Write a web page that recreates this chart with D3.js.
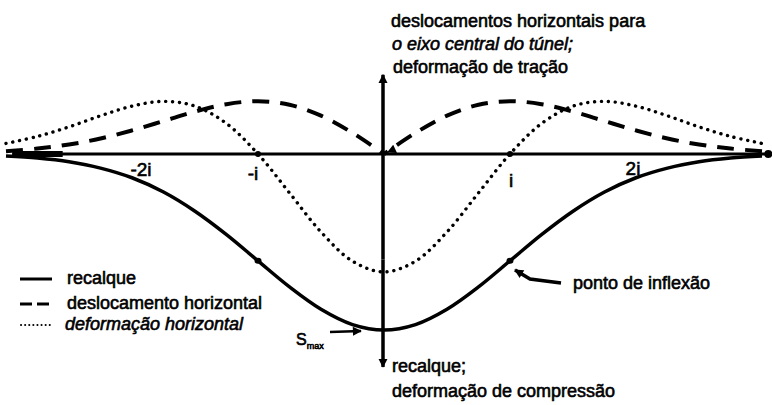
<!DOCTYPE html>
<html>
<head>
<meta charset="utf-8">
<script src="https://cdn.jsdelivr.net/npm/d3@7"></script>
<style>
  html, body { margin: 0; padding: 0; background: #fff; }
  svg text { font-family: "Liberation Sans", Arial, sans-serif; fill: #000; stroke: #000; stroke-width: 0.6px; }
</style>
</head>
<body>
<svg id="chart" width="772" height="405"></svg>
<script>
// Distance from the tunnel axis, in multiples of i
const xs = [-3, -2.75, -2.5, -2.25, -2, -1.75, -1.5, -1.25, -1, -0.75, -0.5, -0.25, 0,
            0.25, 0.5, 0.75, 1, 1.25, 1.5, 1.75, 2, 2.25, 2.5, 2.75, 3];

// Settlement (recalque), as a fraction of S_max, positive downward
const recalque = [0.011, 0.023, 0.044, 0.080, 0.135, 0.216, 0.325, 0.458, 0.607, 0.755, 0.882, 0.969, 1.000,
                  0.969, 0.882, 0.755, 0.607, 0.458, 0.325, 0.216, 0.135, 0.080, 0.044, 0.023, 0.011];

// Horizontal displacement towards the tunnel axis (drawn upward, negative)
const deslocamento = [-0.016, -0.031, -0.054, -0.088, -0.134, -0.187, -0.241, -0.283, -0.300, -0.280, -0.218, -0.120, 0,
                      -0.120, -0.218, -0.280, -0.300, -0.283, -0.241, -0.187, -0.134, -0.088, -0.054, -0.031, -0.016];

// Horizontal strain: compression positive (down), tension negative (up)
const deformacao = [-0.060, -0.100, -0.154, -0.217, -0.272, -0.299, -0.272, -0.173, 0, 0.221, 0.443, 0.609, 0.670,
                    0.609, 0.443, 0.221, 0, -0.173, -0.272, -0.299, -0.272, -0.217, -0.154, -0.100, -0.060];

// Tick labels along the horizontal axis
const tickValues = [-2, -1, 1, 2];
const tickLabels = ["-2i", "-i", "i", "2i"];

const legendLabels = ["recalque", "deslocamento horizontal", "deformação horizontal"];

const svg = d3.select("#chart");

const x = d3.scaleLinear().domain([-3, 3]).range([6, 762]);
const y = d3.scaleLinear().domain([0, 1]).range([154, 330]);

const line = d3.line()
  .x(d => x(d[0]))
  .y(d => y(d[1]))
  .curve(d3.curveCatmullRom.alpha(0.5));

// arrowheads
const defs = svg.append("defs");
defs.append("marker")
  .attr("id", "axisHead").attr("viewBox", "0 0 10 10")
  .attr("refX", 9).attr("refY", 5)
  .attr("markerWidth", 9).attr("markerHeight", 16)
  .attr("markerUnits", "userSpaceOnUse")
  .attr("orient", "auto")
  .append("path").attr("d", "M0,0 L10,5 L0,10 Z").attr("fill", "#000");
defs.append("marker")
  .attr("id", "smallHead").attr("viewBox", "0 0 10 10")
  .attr("refX", 9).attr("refY", 5)
  .attr("markerWidth", 12).attr("markerHeight", 9)
  .attr("markerUnits", "userSpaceOnUse")
  .attr("orient", "auto")
  .append("path").attr("d", "M0,0 L10,5 L0,10 Z").attr("fill", "#000");

// horizontal axis
svg.append("line")
  .attr("x1", x(-2.95)).attr("x2", x(3.05))
  .attr("y1", y(0)).attr("y2", y(0))
  .attr("stroke", "#000").attr("stroke-width", 3);
svg.append("circle").attr("cx", x(3.05)).attr("cy", y(0)).attr("r", 4).attr("fill", "#000");
svg.append("line")
  .attr("x1", x(-2.95)).attr("x2", x(-2.55))
  .attr("y1", y(0)).attr("y2", y(0))
  .attr("stroke", "#000").attr("stroke-width", 6);

// vertical axis, double-headed
svg.append("line")
  .attr("x1", x(0) - 1).attr("x2", x(0) - 1)
  .attr("y1", y(0.6)).attr("y2", y(-0.45))
  .attr("stroke", "#000").attr("stroke-width", 3.5)
  .attr("marker-end", "url(#axisHead)");
svg.append("line")
  .attr("x1", x(0) - 1).attr("x2", x(0) - 1)
  .attr("y1", y(0.6)).attr("y2", y(1.21))
  .attr("stroke", "#000").attr("stroke-width", 3.5)
  .attr("marker-end", "url(#axisHead)");

// tick marks at ±i
svg.selectAll("circle.tick").data([-1, 1]).enter().append("circle")
  .attr("class", "tick")
  .attr("cx", d => x(d)).attr("cy", y(0)).attr("r", 3).attr("fill", "#000");

// tick labels
const labelDx = [9, -5, 1, -3];
const labelY = [176, 180, 187, 175];
svg.selectAll("text.tick").data(tickValues).enter().append("text")
  .attr("class", "tick")
  .attr("x", (d, k) => x(d) + labelDx[k])
  .attr("y", (d, k) => labelY[k])
  .attr("text-anchor", "middle")
  .attr("font-size", 19)
  .text((d, k) => tickLabels[k]);

const pts = vals => xs.map((v, k) => [v, vals[k]]);

// settlement trough
svg.append("path")
  .attr("d", line(pts(recalque)))
  .attr("fill", "none").attr("stroke", "#000").attr("stroke-width", 3.5);

// horizontal displacement, two branches pointing to the axis
const disp = pts(deslocamento);
svg.append("path")
  .attr("d", line(disp.filter(d => d[0] <= 0)))
  .attr("fill", "none").attr("stroke", "#000").attr("stroke-width", 4)
  .attr("stroke-dasharray", "17 11");
svg.append("path")
  .attr("d", line(disp.filter(d => d[0] >= 0).reverse()))
  .attr("fill", "none").attr("stroke", "#000").attr("stroke-width", 4)
  .attr("stroke-dasharray", "17 11");
// arrowhead where the right branch meets the axis
svg.append("line")
  .attr("x1", x(0.12)).attr("y1", y(-0.04))
  .attr("x2", x(0.03)).attr("y2", y(-0.01))
  .attr("stroke", "none")
  .attr("marker-end", "url(#smallHead)");

// horizontal strain
svg.append("path")
  .attr("d", line(pts(deformacao)))
  .attr("fill", "none").attr("stroke", "#000").attr("stroke-width", 3.4)
  .attr("stroke-linecap", "round")
  .attr("stroke-dasharray", "0.1 6.8");

// inflection point markers on the trough
svg.selectAll("ellipse.infl").data([-1, 1]).enter().append("ellipse")
  .attr("class", "infl")
  .attr("cx", d => x(d)).attr("cy", y(recalque[xs.indexOf(-1)]))
  .attr("rx", 3.5).attr("ry", 3).attr("fill", "#000");

// annotation arrows
svg.append("path")
  .attr("d", "M561,283 L530,279 L515,270")
  .attr("fill", "none").attr("stroke", "#000").attr("stroke-width", 3.5)
  .attr("marker-end", "url(#smallHead)");
svg.append("line")
  .attr("x1", 330).attr("y1", 332).attr("x2", 361).attr("y2", 331)
  .attr("stroke", "#000").attr("stroke-width", 2.5)
  .attr("marker-end", "url(#smallHead)");

// S_max label
const smax = svg.append("text").attr("x", 296).attr("y", 345).attr("font-size", 16);
smax.append("tspan").text("S");
smax.append("tspan").attr("font-size", 9).attr("dy", 4).text("max");

// annotations around the vertical axis
const topText = svg.append("g").attr("font-size", 18);
topText.append("text").attr("x", 391).attr("y", 27).text("deslocamentos horizontais para");
topText.append("text").attr("x", 392).attr("y", 50).attr("font-style", "italic").text("o eixo central do túnel;");
topText.append("text").attr("x", 393).attr("y", 73).text("deformação de tração");

const botText = svg.append("g").attr("font-size", 18);
botText.append("text").attr("x", 392).attr("y", 372).text("recalque;");
botText.append("text").attr("x", 392).attr("y", 397).text("deformação de compressão");

svg.append("text").attr("x", 573).attr("y", 289).attr("font-size", 18).text("ponto de inflexão");

// legend
const lg = svg.append("g");
const rows = [279, 304, 325];
lg.append("line").attr("x1", 20).attr("x2", 52).attr("y1", rows[0]).attr("y2", rows[0])
  .attr("stroke", "#000").attr("stroke-width", 3);
lg.append("line").attr("x1", 20).attr("x2", 51).attr("y1", rows[1]).attr("y2", rows[1])
  .attr("stroke", "#000").attr("stroke-width", 3).attr("stroke-dasharray", "12 5");
lg.append("line").attr("x1", 21).attr("x2", 51).attr("y1", rows[2]).attr("y2", rows[2])
  .attr("stroke", "#000").attr("stroke-width", 2).attr("stroke-linecap", "round")
  .attr("stroke-dasharray", "0.1 4");
lg.selectAll("text").data(legendLabels).enter().append("text")
  .attr("x", (d, k) => k === 2 ? 65 : 67)
  .attr("y", (d, k) => rows[k] + 5)
  .attr("font-size", 18)
  .attr("font-style", (d, k) => k === 2 ? "italic" : null)
  .text(d => d);
</script>
</body>
</html>
